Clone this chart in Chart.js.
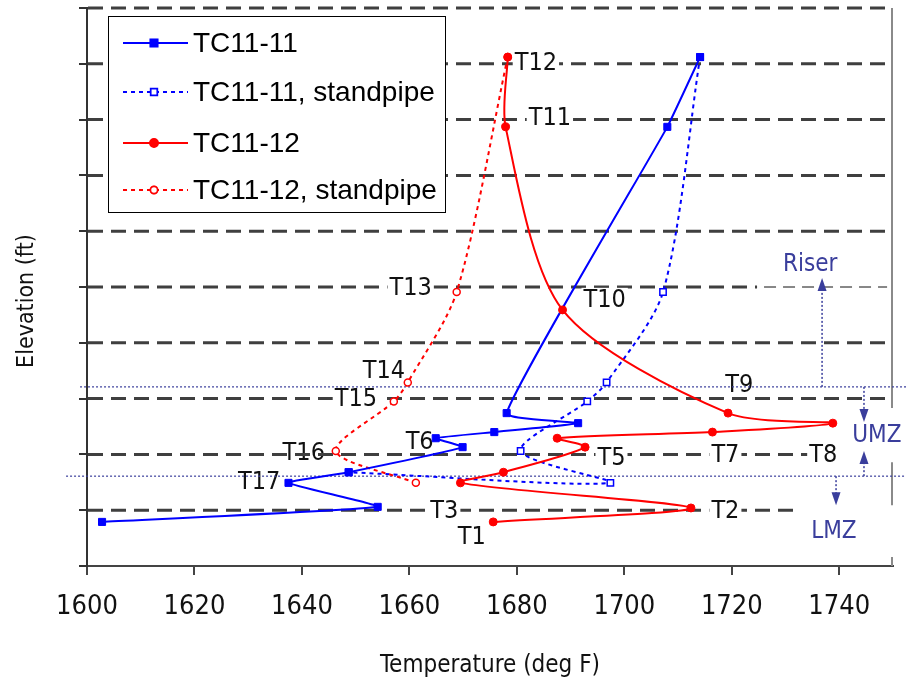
<!DOCTYPE html>
<html>
<head>
<meta charset="utf-8">
<script src="https://cdn.jsdelivr.net/npm/chart.js@4.4.1/dist/chart.umd.min.js"></script>
<style>
  html, body { margin: 0; padding: 0; background: #ffffff; }
  #wrap { width: 906px; height: 685px; }
</style>
</head>
<body>
<div id="wrap"><canvas id="chart" width="906" height="685"></canvas></div>
<script>
// Thermocouple elevations (relative units, one grid step per level)
const elevations = [9.12, 7.87, 4.59, 2.74, 2.56, 2.40, 2.29, 2.13, 1.68, 1.49, 1.04, 0.79];
// TC11-11 bed temperatures (deg F); no reading at the 4.59 level
const tc1111Elev = [9.12, 7.87, 2.74, 2.56, 2.40, 2.29, 2.13, 1.68, 1.49, 1.06, 0.79];
const tc1111Temp = [1714.1, 1708.0, 1678.1, 1691.4, 1675.8, 1664.9, 1669.9, 1648.7, 1637.5, 1654.1, 1602.8];
// TC11-12 bed temperatures (deg F)
const tc1112Temp = [1678.3, 1677.9, 1688.5, 1719.3, 1738.8, 1716.4, 1687.5, 1692.7, 1677.5, 1669.5, 1712.4, 1675.6];
// Standpipe thermocouples
const standpipeElev = [9.12, 4.91, 3.29, 2.95, 2.06, 1.49, 1.68];
const tc1111Standpipe = [1714.1, 1707.2, 1696.7, 1693.1, 1680.7, 1697.4, 1648.7];
const tc1112Standpipe = [1678.3, 1668.8, 1659.7, 1657.1, 1646.3, 1661.2];
// Axis ticks
const tempTicks = [1600, 1620, 1640, 1660, 1680, 1700, 1720, 1740];
const elevTicks = [0, 1, 2, 3, 4, 5, 6, 7, 8, 9, 10];
// Zone boundaries (elevation)
const riserBottom = 3.21;
const umzBottom = 1.61;

const NARROW = '"Liberation Sans Narrow", "Arial Narrow", "DejaVu Sans Condensed", sans-serif';
const REGULAR = '"Liberation Sans", Arial, sans-serif';
const ZONE_COLOR = '#3a3e9c';

const pts = (xs, ys) => xs.map((x, i) => ({ x: x, y: ys[i] }));

// Thermocouple tags: [text, temperature, elevation, white backing]
const tags = [
  ['T12', 1679.6, 9.03, true],
  ['T11', 1682.2, 8.03, true],
  ['T13', 1656.3, 5.00, true],
  ['T10', 1692.4, 4.77, true],
  ['T14', 1651.3, 3.51, true],
  ['T15', 1646.1, 3.01, true],
  ['T9', 1718.8, 3.26, false],
  ['T6', 1659.3, 2.24, true],
  ['T16', 1636.4, 2.03, false],
  ['T5', 1695.0, 1.95, true],
  ['T7', 1716.2, 1.99, true],
  ['T8', 1734.4, 1.99, true],
  ['T17', 1628.1, 1.51, true],
  ['T3', 1663.9, 1.00, true],
  ['T2', 1716.2, 1.00, true],
  ['T1', 1669.0, 0.52, true]
];

// Elevation reference lines: [level, end temperature]
const levelLines = [
  [1, 1731.6], [2, 1734.8], [3, 1748.9], [4, 1748.9], [6, 1748.9],
  [7, 1748.9], [8, 1748.9], [9, 1748.9], [10, 1748.9]
];

function tagText(ctx, xs, ys, t) {
  const [txt, tx, ty, backed] = t;
  const x = xs.getPixelForValue(tx), y = ys.getPixelForValue(ty);
  ctx.font = '25px ' + NARROW;
  const w = ctx.measureText(txt).width;
  if (backed) {
    ctx.fillStyle = '#ffffff';
    ctx.fillRect(x - 2, y - 12, w + 4, 24);
  }
  ctx.fillStyle = '#111111';
  ctx.textAlign = 'left';
  ctx.textBaseline = 'middle';
  ctx.fillText(txt, x, y + 1);
}

function dashedLevel(ctx, xs, ys, lvl, x0v, x1v, width, dash, color) {
  const y = ys.getPixelForValue(lvl);
  ctx.save();
  ctx.strokeStyle = color;
  ctx.lineWidth = width;
  ctx.setLineDash(dash);
  ctx.beginPath();
  ctx.moveTo(x0v === null ? xs.left + 1 : xs.getPixelForValue(x0v), y);
  ctx.lineTo(xs.getPixelForValue(x1v), y);
  ctx.stroke();
  ctx.restore();
}

function arrow(ctx, x, y0, y1) {
  const dir = Math.sign(y1 - y0);
  ctx.save();
  ctx.strokeStyle = ZONE_COLOR;
  ctx.fillStyle = ZONE_COLOR;
  ctx.lineWidth = 1.5;
  ctx.setLineDash([2, 2]);
  ctx.beginPath();
  ctx.moveTo(x, y0);
  ctx.lineTo(x, y1 - dir * 10);
  ctx.stroke();
  ctx.setLineDash([]);
  ctx.beginPath();
  ctx.moveTo(x, y1);
  ctx.lineTo(x - 4.5, y1 - dir * 13);
  ctx.lineTo(x + 4.5, y1 - dir * 13);
  ctx.closePath();
  ctx.fill();
  ctx.restore();
}

const decorations = {
  id: 'decorations',
  beforeDatasetsDraw(chart) {
    const ctx = chart.ctx;
    const xs = chart.scales.x, ys = chart.scales.y;
    ctx.save();

    // tags that sit under the reference lines
    tags.filter(t => !t[3]).forEach(t => tagText(ctx, xs, ys, t));

    // elevation reference lines
    levelLines.forEach(([lvl, end]) => dashedLevel(ctx, xs, ys, lvl, null, end, 3, [15, 8], '#3f3f3f'));
    dashedLevel(ctx, xs, ys, 5, null, 1724.7, 3, [15, 8], '#3f3f3f');
    dashedLevel(ctx, xs, ys, 5, 1726.0, 1748.9, 1, [12, 7], '#111111');

    // tags with white backing
    tags.filter(t => t[3]).forEach(t => tagText(ctx, xs, ys, t));

    // right frame, broken where the zone labels sit
    ctx.strokeStyle = '#8a8a8a';
    ctx.lineWidth = 2;
    const xr = xs.getPixelForValue(1750) - 1;
    [[10, 2.83], [1.86, 1.09], [0.16, 0]].forEach(([a, b]) => {
      ctx.beginPath();
      ctx.moveTo(xr, ys.getPixelForValue(a));
      ctx.lineTo(xr, ys.getPixelForValue(b));
      ctx.stroke();
    });

    // zone boundaries
    ctx.strokeStyle = ZONE_COLOR;
    ctx.lineWidth = 1.2;
    ctx.setLineDash([2, 2]);
    [[riserBottom, 1598.7], [umzBottom, 1596.1]].forEach(([lvl, start]) => {
      const y = ys.getPixelForValue(lvl);
      ctx.beginPath();
      ctx.moveTo(xs.getPixelForValue(start), y);
      ctx.lineTo(chart.width, y);
      ctx.stroke();
    });
    ctx.setLineDash([]);

    // zone arrows
    arrow(ctx, xs.getPixelForValue(1736.8), ys.getPixelForValue(riserBottom), ys.getPixelForValue(5.16));
    arrow(ctx, xs.getPixelForValue(1744.6), ys.getPixelForValue(riserBottom), ys.getPixelForValue(2.58));
    arrow(ctx, xs.getPixelForValue(1744.6), ys.getPixelForValue(umzBottom), ys.getPixelForValue(2.06));
    arrow(ctx, xs.getPixelForValue(1739.4), ys.getPixelForValue(umzBottom), ys.getPixelForValue(1.09));

    // zone names
    ctx.font = '24px ' + NARROW;
    ctx.fillStyle = ZONE_COLOR;
    ctx.textAlign = 'center';
    ctx.textBaseline = 'middle';
    ctx.fillText('Riser', xs.getPixelForValue(1734.6), ys.getPixelForValue(5.39));
    ctx.fillText('UMZ', xs.getPixelForValue(1747.0), ys.getPixelForValue(2.33));
    ctx.fillText('LMZ', xs.getPixelForValue(1739.0), ys.getPixelForValue(0.61));

    // vertical axis title
    ctx.save();
    ctx.translate(27, (ys.top + ys.bottom) / 2 + 14);
    ctx.rotate(-Math.PI / 2);
    ctx.font = '23px ' + NARROW;
    ctx.fillStyle = '#111111';
    ctx.textAlign = 'center';
    ctx.textBaseline = 'middle';
    ctx.fillText('Elevation (ft)', 0, 0);
    ctx.restore();

    ctx.restore();
  },
  afterDatasetsDraw(chart) {
    // legend box
    const ctx = chart.ctx;
    const area = chart.chartArea;
    const bx = area.left + 21, by = area.top + 8, bw = 337, bh = 196;
    ctx.save();
    ctx.fillStyle = '#ffffff';
    ctx.fillRect(bx, by, bw, bh);
    ctx.strokeStyle = '#000000';
    ctx.lineWidth = 1;
    ctx.strokeRect(bx + 0.5, by + 0.5, bw, bh);
    const rows = [27, 76, 127, 174];
    chart.data.datasets.forEach((ds, i) => {
      const y = by + rows[i];
      ctx.strokeStyle = ds.borderColor;
      ctx.lineWidth = 2;
      ctx.setLineDash(ds.borderDash || []);
      ctx.beginPath();
      ctx.moveTo(bx + 15, y);
      ctx.lineTo(bx + 80, y);
      ctx.stroke();
      ctx.setLineDash([]);
      Chart.helpers.drawPoint(ctx, {
        pointStyle: ds.pointStyle,
        radius: ds.pointRadius,
        borderWidth: ds.pointBorderWidth || 1
      }, bx + 46, y);
      ctx.fillStyle = ds.pointBackgroundColor;
      ctx.strokeStyle = ds.borderColor;
      ctx.lineWidth = ds.pointBorderWidth || 1;
      ctx.fill();
      ctx.stroke();
      ctx.font = '28px ' + REGULAR;
      ctx.fillStyle = '#000000';
      ctx.textAlign = 'left';
      ctx.textBaseline = 'middle';
      ctx.fillText(ds.label, bx + 85, y + 1);
    });
    ctx.restore();
  }
};

new Chart(document.getElementById('chart'), {
  type: 'scatter',
  data: {
    datasets: [
      {
        label: 'TC11-11',
        data: pts(tc1111Temp, tc1111Elev),
        showLine: true,
        borderColor: '#0000ff',
        pointBackgroundColor: '#0000ff',
        pointBorderColor: '#0000ff',
        borderWidth: 2,
        pointStyle: 'rect',
        pointRadius: 5,
        pointBorderWidth: 1,
        tension: 0.12,
        order: 1
      },
      {
        label: 'TC11-11, standpipe',
        data: pts(tc1111Standpipe, standpipeElev),
        showLine: true,
        borderColor: '#0000ff',
        borderDash: [4, 4],
        pointBackgroundColor: '#ffffff',
        pointBorderColor: '#0000ff',
        borderWidth: 2,
        pointStyle: 'rect',
        pointRadius: 4.5,
        pointBorderWidth: 1.5,
        tension: 0.28,
        order: 3
      },
      {
        label: 'TC11-12',
        data: pts(tc1112Temp, elevations),
        showLine: true,
        borderColor: '#ff0000',
        pointBackgroundColor: '#ff0000',
        pointBorderColor: '#ff0000',
        borderWidth: 2,
        pointStyle: 'circle',
        pointRadius: 4,
        pointBorderWidth: 1,
        tension: 0.28,
        order: 0
      },
      {
        label: 'TC11-12, standpipe',
        data: pts(tc1112Standpipe, standpipeElev.slice(0, tc1112Standpipe.length)),
        showLine: true,
        borderColor: '#ff0000',
        borderDash: [4, 4],
        pointBackgroundColor: '#ffffff',
        pointBorderColor: '#ff0000',
        borderWidth: 2,
        pointStyle: 'circle',
        pointRadius: 3.5,
        pointBorderWidth: 1.5,
        tension: 0.28,
        order: 2
      }
    ]
  },
  options: {
    responsive: false,
    animation: false,
    devicePixelRatio: 1,
    layout: { padding: { top: 8, right: 13, left: 0, bottom: 0 } },
    plugins: { legend: { display: false }, tooltip: { enabled: false } },
    scales: {
      x: {
        type: 'linear',
        min: 1600,
        max: 1750,
        afterFit(s) { s.height = 119; },
        afterBuildTicks(s) { s.ticks = tempTicks.map(v => ({ value: v })); },
        grid: { drawOnChartArea: false, drawTicks: true, tickLength: 9, color: '#444444', lineWidth: 2 },
        border: { display: true, color: '#444444', width: 2 },
        ticks: {
          font: { family: NARROW, size: 27 },
          color: '#111111',
          padding: 16,
          maxRotation: 0,
          callback: v => String(v)
        },
        title: {
          display: true,
          text: 'Temperature (deg F)',
          font: { family: NARROW, size: 24 },
          color: '#111111',
          padding: { top: 0, bottom: 5 }
        }
      },
      y: {
        type: 'linear',
        min: 0,
        max: 10,
        afterFit(s) { s.width = 87; },
        afterBuildTicks(s) { s.ticks = elevTicks.map(v => ({ value: v })); },
        grid: { drawOnChartArea: false, drawTicks: true, tickLength: 8, color: '#333333', lineWidth: 2 },
        border: { display: true, color: '#333333', width: 2 },
        ticks: { display: false }
      }
    }
  },
  plugins: [decorations]
});
</script>
</body>
</html>
